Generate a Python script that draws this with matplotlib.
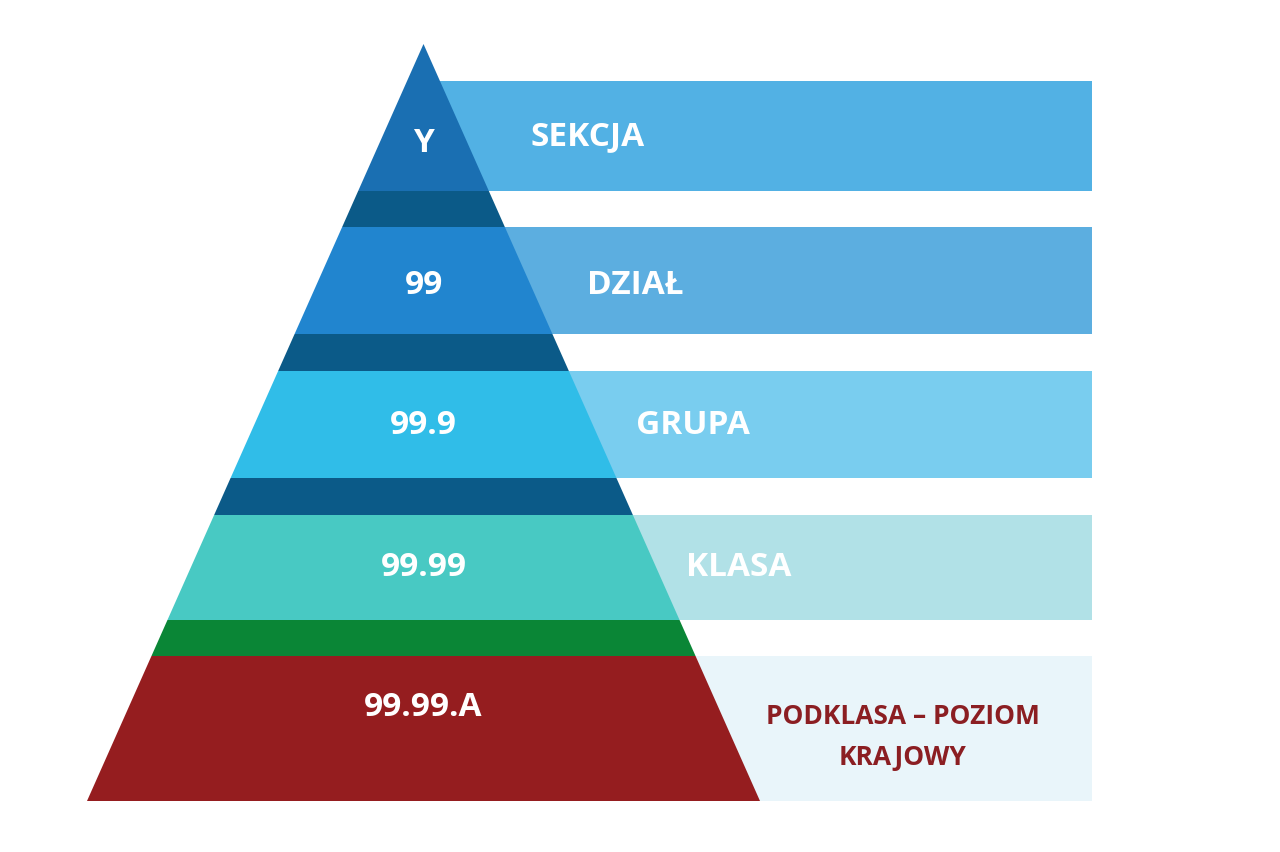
import matplotlib
matplotlib.use("Agg")
import matplotlib.pyplot as plt
from matplotlib.patches import Polygon, Rectangle

codes = ["Y", "99", "99.9", "99.99", "99.99.A"]
names = ["SEKCJA", "DZIAŁ", "GRUPA", "KLASA", "PODKLASA – POZIOM\nKRAJOWY"]

# band geometry (image pixel coords)
bands = [(45, 192), (228, 335), (372, 479), (516, 621), (657, 802)]
gaps = [(192, 228), (335, 372), (479, 516), (621, 657)]
rects = [(82, 192), (228, 335), (372, 479), (516, 621), (657, 802)]
band_cols = ["#1a6fb2", "#2185cf", "#30bde8", "#48c9c3", "#951d1f"]
gap_cols = ["#0b5a88", "#0b5a88", "#0b5a88", "#0a8636"]
rect_cols = ["#52b1e4", "#5caee0", "#79cdef", "#b1e1e7", "#e9f5fa"]
code_y = [143, 285, 425, 567, 708]
name_pos = [(531, 137), (587, 285), (636, 425), (686, 567), (903, 737)]
name_cols = ["white"] * 4 + ["#8b1e22"]
name_sizes = [24, 24, 24, 24, 19]

apex_x, apex_y, base_y, half_base = 423.5, 45, 802, 336.5
def hw(y):
    return (y - apex_y) / (base_y - apex_y) * half_base

fig = plt.figure(figsize=(12.8, 8.53), dpi=100)
ax = fig.add_axes([0, 0, 1, 1])
ax.set_xlim(0, 1280); ax.set_ylim(853, 0); ax.axis("off")

for (t, b), c in zip(rects, rect_cols):
    ax.add_patch(Rectangle((apex_x, t), 1092 - apex_x, b - t, color=c, lw=0))

def trap(t, b, c):
    ax.add_patch(Polygon([(apex_x - hw(t), t), (apex_x + hw(t), t),
                          (apex_x + hw(b), b), (apex_x - hw(b), b)],
                         closed=True, color=c, lw=0))

for (t, b), c in zip(bands, band_cols):
    trap(t, b, c)
for (t, b), c in zip(gaps, gap_cols):
    trap(t, b, c)

font = "Open Sans"
for code, y in zip(codes, code_y):
    ax.text(apex_x, y, code, color="white", fontsize=24, fontweight="bold",
            family=font, ha="center", va="center")
for name, (x, y), c, s in zip(names, name_pos, name_cols, name_sizes):
    ha = "center" if "\n" in name else "left"
    ax.text(x, y, name, color=c, fontsize=s, fontweight="bold", family=font,
            ha=ha, va="center", linespacing=1.7)

fig.savefig("out.png", dpi=100)
